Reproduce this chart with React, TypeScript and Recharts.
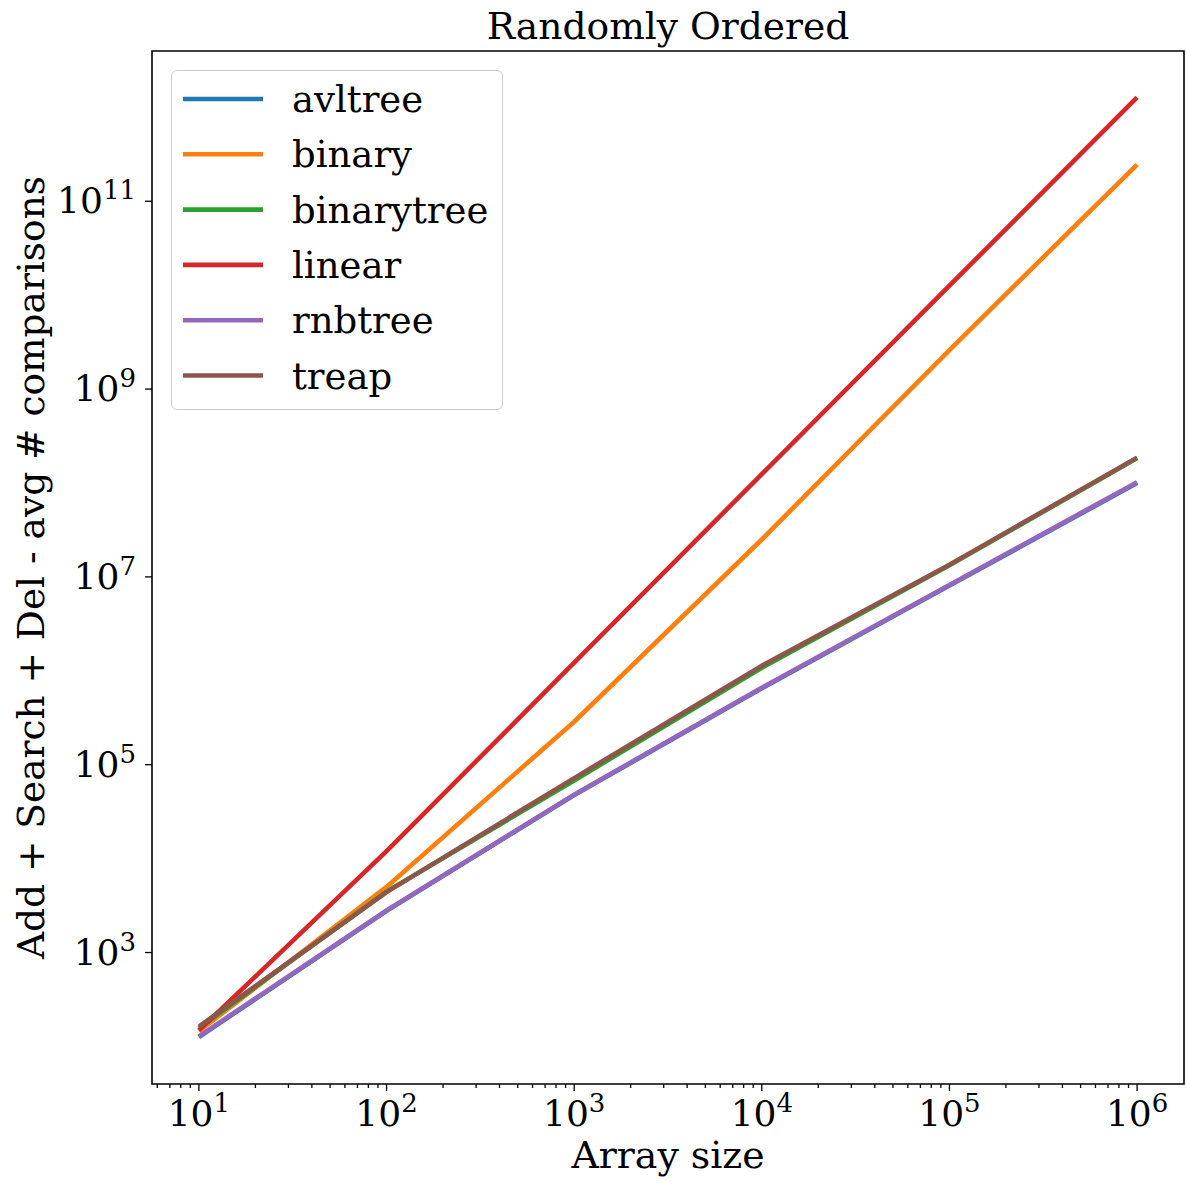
import React from 'react';
import { LineChart, Line, XAxis, YAxis, Legend, ReferenceArea } from 'recharts';

const sizes = [10, 100, 1000, 10000, 100000, 1000000];
const avltree = [126, 2780, 47500, 650000, 8.1e6, 1.0e8];
const binary = [145, 5000, 2.87e5, 2.5e7, 2.6e9, 2.46e11];
const binarytree = [157, 4450, 68000, 1.08e6, 1.33e7, 1.84e8];
const linear = [148, 1.2e4, 1.22e6, 1.24e8, 1.26e10, 1.28e12];
const rnbtree = [128, 2800, 48000, 6.6e5, 8.2e6, 1.02e8];
const treap = [163, 4400, 72000, 1.13e6, 1.35e7, 1.86e8];

const seriesNames = ['avltree', 'binary', 'binarytree', 'linear', 'rnbtree', 'treap'];
const seriesValues = [avltree, binary, binarytree, linear, rnbtree, treap];
const seriesColors = ['#1f77b4', '#ff7f0e', '#2ca02c', '#d62728', '#9467bd', '#8c564b'];

const xMajorTicks = [10, 100, 1000, 10000, 100000, 1000000];
const xMinorTicks = [
  6, 7, 8, 9,
  20, 30, 40, 50, 60, 70, 80, 90,
  200, 300, 400, 500, 600, 700, 800, 900,
  2000, 3000, 4000, 5000, 6000, 7000, 8000, 9000,
  20000, 30000, 40000, 50000, 60000, 70000, 80000, 90000,
  200000, 300000, 400000, 500000, 600000, 700000, 800000, 900000,
];
const yMajorTicks = [1e3, 1e5, 1e7, 1e9, 1e11];

const xDomain = [Math.pow(10, 0.75), Math.pow(10, 6.25)];
const yDomain = [Math.pow(10, 1.6), Math.pow(10, 12.6)];

const title = 'Randomly Ordered';
const xLabel = 'Array size';
const yLabel = 'Add + Search + Del - avg # comparisons';

const data = sizes.map((n, i) => {
  const row: any = { n };
  seriesNames.forEach((name, k) => {
    row[name] = seriesValues[k][i];
  });
  return row;
});

const FONT = "'DejaVu Serif', 'Liberation Serif', serif";
const LW = 4.6;

const isMajor = (v: number) => {
  const l = Math.log10(v);
  return Math.abs(l - Math.round(l)) < 1e-9;
};

const XTick = (props: any) => {
  const { x, y, payload } = props;
  const v = payload.value;
  const major = isMajor(v);
  const e = Math.round(Math.log10(v));
  return (
    <g>
      <line x1={x} x2={x} y1={y} y2={y + (major ? 7 : 4)} stroke="#000" strokeWidth={1.3} />
      {major && (
        <text x={x} y={y + 42} textAnchor="middle" fontFamily={FONT} fontSize={36} fill="#000">
          <tspan>10</tspan>
          <tspan dy={-14} fontSize={26}>{e}</tspan>
        </text>
      )}
    </g>
  );
};

const YTick = (props: any) => {
  const { x, y, payload } = props;
  const e = Math.round(Math.log10(payload.value));
  return (
    <g>
      <line x1={x - 7} x2={x} y1={y} y2={y} stroke="#000" strokeWidth={1.3} />
      <text x={x - 16} y={y + 12} textAnchor="end" fontFamily={FONT} fontSize={36} fill="#000">
        <tspan>10</tspan>
        <tspan dy={-14} fontSize={26}>{e}</tspan>
      </text>
    </g>
  );
};

const LegendBox = () => (
  <div
    style={{
      width: 332,
      height: 340,
      boxSizing: 'border-box',
      border: '1.5px solid #cccccc',
      borderRadius: 6,
      background: 'rgba(255,255,255,0.8)',
      position: 'relative',
    }}
  >
    <svg width={332} height={340} style={{ position: 'absolute', left: -1.5, top: -1.5 }}>
      {seriesNames.map((name, i) => {
        const cy = 29 + i * 55.3;
        return (
          <g key={name}>
            <line x1={12} x2={92} y1={cy} y2={cy} stroke={seriesColors[i]} strokeWidth={LW} />
            <text x={121} y={cy + 13} fontFamily={FONT} fontSize={37} fill="#000">
              {name}
            </text>
          </g>
        );
      })}
    </svg>
  </div>
);

export default function App() {
  return (
    <div style={{ position: 'absolute', left: 0, top: 0, background: '#fff' }}>
      <LineChart
        width={1187}
        height={1184}
        data={data}
        margin={{ top: 51, right: 3, left: 0, bottom: 0 }}
      >
        <XAxis
          dataKey="n"
          type="number"
          scale="log"
          domain={xDomain}
          allowDataOverflow
          ticks={[...xMajorTicks, ...xMinorTicks]}
          interval={0}
          height={100}
          tickSize={0}
          tickMargin={0}
          tickLine={false}
          axisLine={false}
          tick={<XTick />}
          label={(p: any) => {
            const vb = p.viewBox;
            return (
              <text
                x={vb.x + vb.width / 2}
                y={vb.y + 84}
                textAnchor="middle"
                fontFamily={FONT}
                fontSize={37.8}
                fill="#000"
              >
                {xLabel}
              </text>
            );
          }}
        />
        <YAxis
          type="number"
          scale="log"
          domain={yDomain}
          allowDataOverflow
          ticks={yMajorTicks}
          interval={0}
          width={152}
          tickSize={0}
          tickMargin={0}
          tickLine={false}
          axisLine={false}
          tick={<YTick />}
          label={(p: any) => {
            const vb = p.viewBox;
            const cx = 44;
            const cy = vb.y + vb.height / 2;
            return (
              <text
                x={cx}
                y={cy}
                textAnchor="middle"
                transform={`rotate(-90, ${cx}, ${cy})`}
                fontFamily={FONT}
                fontSize={37.5}
                fill="#000"
              >
                {yLabel}
              </text>
            );
          }}
        />
        <ReferenceArea
          x1={xDomain[0]}
          x2={xDomain[1]}
          y1={yDomain[0]}
          y2={yDomain[1]}
          fill="none"
          fillOpacity={0}
          stroke="#000"
          strokeWidth={1.6}
          ifOverflow="visible"
        />
        {seriesNames.map((name, i) => (
          <Line
            key={name}
            dataKey={name}
            name={name}
            type="linear"
            stroke={seriesColors[i]}
            strokeWidth={LW}
            dot={false}
            activeDot={false}
            isAnimationActive={false}
          />
        ))}
        <Legend
          layout="vertical"
          align="center"
          verticalAlign="middle"
          content={() => <LegendBox />}
          wrapperStyle={{ left: 171, top: 70, width: 332, height: 340, right: 'auto', bottom: 'auto' }}
        />
        <text x={668} y={39} textAnchor="middle" fontFamily={FONT} fontSize={37.6} fill="#000">
          {title}
        </text>
      </LineChart>
    </div>
  );
}
